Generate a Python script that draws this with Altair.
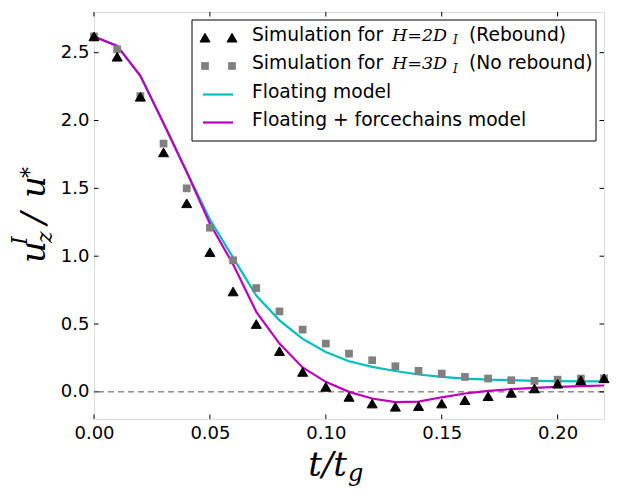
import altair as alt
import pandas as pd

# ---- data ----
t_vals = [0.00, 0.01, 0.02, 0.03, 0.04, 0.05, 0.06, 0.07, 0.08, 0.09, 0.10, 0.11,
          0.12, 0.13, 0.14, 0.15, 0.16, 0.17, 0.18, 0.19, 0.20, 0.21, 0.22]
sim_h2 = [2.62, 2.47, 2.175, 1.765, 1.39, 1.03, 0.74, 0.50, 0.30, 0.147, 0.037, -0.037,
          -0.086, -0.11, -0.105, -0.086, -0.061, -0.032, -0.007, 0.025, 0.06, 0.086, 0.10]
sim_h3 = [2.62, 2.525, 2.18, 1.83, 1.50, 1.21, 0.97, 0.765, 0.593, 0.459, 0.356, 0.282,
          0.233, 0.189, 0.155, 0.135, 0.11, 0.098, 0.086, 0.081, 0.09, 0.098, 0.10]
floating = [2.62, 2.55, 2.33, 1.98, 1.62, 1.27, 0.99, 0.71, 0.527, 0.39, 0.294, 0.226,
            0.184, 0.154, 0.128, 0.11, 0.098, 0.09, 0.086, 0.081, 0.079, 0.078, 0.078]
forcechains = [2.62, 2.55, 2.33, 1.98, 1.62, 1.24, 0.94, 0.59, 0.356, 0.18, 0.074, 0.0,
               -0.049, -0.076, -0.072, -0.04, -0.012, 0.007, 0.02, 0.03, 0.037, 0.042, 0.047]

x_ticks = [0.0, 0.05, 0.10, 0.15, 0.20]
y_ticks = [0.0, 0.5, 1.0, 1.5, 2.0, 2.5]
x_domain = [0.0, 0.22]
y_domain = [-0.2, 2.8]

W, H = 510, 407
SANS = "DejaVu Sans"
SERIF = "DejaVu Serif"
LFS = 18.7  # legend font size

df = pd.DataFrame({"t": t_vals, "h2": sim_h2, "h3": sim_h3,
                   "floating": floating, "forcechains": forcechains})
xt = pd.DataFrame({"v": x_ticks})
yt = pd.DataFrame({"v": y_ticks})
zero = pd.DataFrame({"v": [0.0]})
dummy = pd.DataFrame({"a": [0]})

xs = alt.Scale(domain=x_domain, nice=False, zero=False)
ys = alt.Scale(domain=y_domain, nice=False, zero=False)
x_axis = alt.Axis(values=x_ticks, format=".2f", labelFont=SANS, labelFontSize=18,
                  labelColor="black", ticks=False, domain=False, grid=False,
                  labelFlush=False, labelOverlap=False, labelPadding=5, title=None)
y_axis = alt.Axis(values=y_ticks, format=".1f", labelFont=SANS, labelFontSize=18,
                  labelColor="black", ticks=False, domain=False, grid=False,
                  labelFlush=False, labelOverlap=False, labelPadding=5, title=None)

X = lambda f: alt.X(f, type="quantitative", scale=xs, axis=x_axis)
Y = lambda f: alt.Y(f, type="quantitative", scale=ys, axis=y_axis)

base = alt.Chart(df)

zero_line = alt.Chart(zero).mark_rule(color="#555555", strokeDash=[6, 4], strokeWidth=1).encode(
    y=alt.Y("v:Q", scale=ys, axis=y_axis))

line_float = base.mark_line(color="#00BFBF", strokeWidth=2.2).encode(x=X("t"), y=Y("floating"))
line_force = base.mark_line(color="#BF00BF", strokeWidth=2.2).encode(x=X("t"), y=Y("forcechains"))
pts_h3 = base.mark_point(shape="square", filled=True, size=60, color="#808080", opacity=1).encode(
    x=X("t"), y=Y("h3"))
pts_h2 = base.mark_point(shape="triangle-up", filled=True, size=100, color="black",
                         stroke="black", strokeWidth=1, opacity=1).encode(x=X("t"), y=Y("h2"))

# inward ticks on all four sides
tick_style = dict(color="black", strokeWidth=1)
tb = alt.Chart(xt).mark_rule(**tick_style).encode(x=alt.X("v:Q", scale=xs, axis=x_axis),
                                                  y=alt.value(H), y2=alt.value(H - 4.5))
tt = alt.Chart(xt).mark_rule(**tick_style).encode(x=alt.X("v:Q", scale=xs, axis=x_axis),
                                                  y=alt.value(0), y2=alt.value(4.5))
tl = alt.Chart(yt).mark_rule(**tick_style).encode(y=alt.Y("v:Q", scale=ys, axis=y_axis),
                                                  x=alt.value(0), x2=alt.value(4.5))
tr = alt.Chart(yt).mark_rule(**tick_style).encode(y=alt.Y("v:Q", scale=ys, axis=y_axis),
                                                  x=alt.value(W), x2=alt.value(W - 4.5))


def txt(s, x, y, size, font=SANS, style="normal", angle=0, align="left"):
    kw = dict(text=s, font=font, fontSize=size, fontStyle=style, align=align,
              baseline="alphabetic", color="black")
    if angle:
        kw["angle"] = angle
    return alt.Chart(dummy).mark_text(**kw).encode(x=alt.value(x), y=alt.value(y))


# axis titles (math style, with sub/superscripts)
titles = [
    txt("t/t", 253, 464, 34, SERIF, "italic", align="right"),
    txt("g", 254, 469, 24, SERIF, "italic"),
    txt("u", -49, 251, 34, SERIF, "italic", angle=270),
    txt("z", -42, 231, 22, SERIF, "italic", angle=270),
    txt("I", -67, 233, 22, SERIF, "italic", angle=270),
    txt("/", -49, 212, 34, SERIF, "italic", angle=270),
    txt("u", -49, 186, 34, SERIF, "italic", angle=270),
    txt("*", -57, 166, 22, SERIF, "italic", angle=270),
]

# legend
leg_box = alt.Chart(dummy).mark_rect(fill="white", stroke="black", strokeWidth=1).encode(
    x=alt.value(98), x2=alt.value(502), y=alt.value(8), y2=alt.value(129))
row_y = [25.7, 54.0, 82.5, 110.5]
base_y = [28.5, 57.0, 85.5, 114.0]
leg = [leg_box]
for mx in (111, 138):
    leg.append(alt.Chart(dummy).mark_point(shape="triangle-up", filled=True, size=100, color="black",
                                           stroke="black", strokeWidth=1, opacity=1)
               .encode(x=alt.value(mx), y=alt.value(row_y[0])))
    leg.append(alt.Chart(dummy).mark_point(shape="square", filled=True, size=60, color="#808080",
                                           opacity=1)
               .encode(x=alt.value(mx), y=alt.value(row_y[1])))
leg.append(alt.Chart(dummy).mark_rule(color="#00BFBF", strokeWidth=2.2).encode(
    x=alt.value(109), x2=alt.value(139), y=alt.value(row_y[2])))
leg.append(alt.Chart(dummy).mark_rule(color="#BF00BF", strokeWidth=2.2).encode(
    x=alt.value(109), x2=alt.value(139), y=alt.value(row_y[3])))
for i, (hv, tail) in enumerate([("H=2D", "(Rebound)"), ("H=3D", "(No rebound)")]):
    leg.append(txt("Simulation for", 158, base_y[i], LFS))
    leg.append(txt(hv, 298, base_y[i], 17.5, SERIF, "italic"))
    leg.append(txt("I", 359, base_y[i] + 3.5, 12, SERIF, "italic"))
    leg.append(txt(tail, 375, base_y[i], LFS))
leg.append(txt("Floating model", 158, base_y[2], LFS))
leg.append(txt("Floating + forcechains model", 158, base_y[3], LFS))

chart = alt.layer(
    zero_line, line_float, line_force, pts_h3, pts_h2, tb, tt, tl, tr, *titles, *leg
).properties(
    width=W, height=H,
    padding={"left": 86, "top": 4, "right": 11, "bottom": 71},
    autosize=alt.AutoSizeParams(type="none"),
).configure_view(stroke="black", strokeWidth=1).configure(background="white")

chart.save("out.html", embed_options={"renderer": "svg", "actions": False})
